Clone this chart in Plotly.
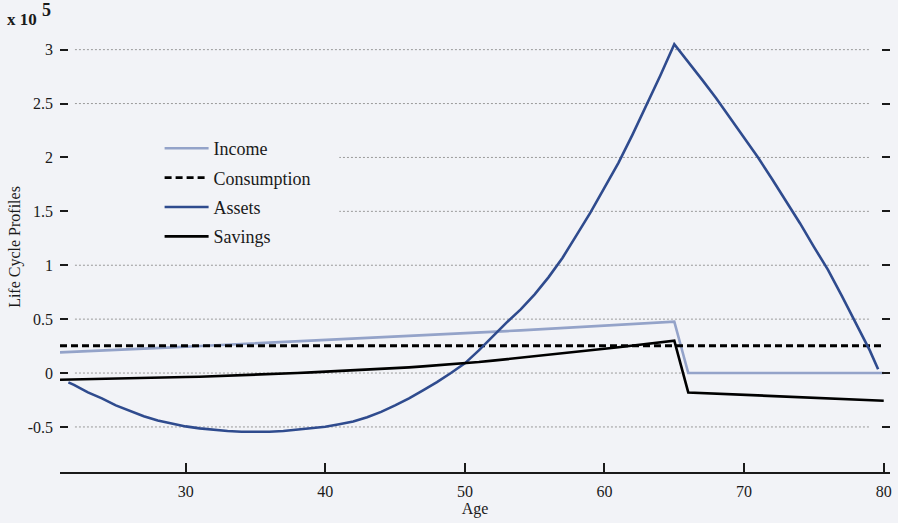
import plotly.graph_objects as go

# Life-cycle model profiles, values in dollars (axis shown in units of 10^5)
ages = list(range(21, 81))

income = [
    19200, 19700, 20300, 20800, 21400, 22000, 22600, 23200, 23800, 24400,
    25000, 25600, 26200, 26800, 27400, 28000, 28600, 29200, 29800, 30500,
    31100, 31800, 32400, 33100, 33700, 34400, 35000, 35700, 36300, 37000,
    37600, 38300, 38900, 39600, 40300, 40900, 41600, 42300, 43000, 43700,
    44500, 45300, 46000, 46800, 47600,
    0, 0, 0, 0, 0, 0, 0, 0, 0, 0, 0, 0, 0, 0, 0,
]

consumption = [25300] * len(ages)

savings = [
    -6200, -6000, -5800, -5500, -5200, -5000, -4700, -4400, -4000, -3700,
    -3400, -3000, -2500, -2000, -1500, -1000, -500, 0, 600, 1200,
    1800, 2400, 3100, 3800, 4500, 5300, 6200, 7100, 8000, 9000,
    10200, 11500, 12800, 14100, 15500, 16900, 18300, 19700, 21100, 22500,
    24000, 25500, 27000, 28500, 30000,
    -18000, -18600, -19100, -19700, -20200, -20800, -21300, -21900, -22400,
    -23000, -23500, -24100, -24600, -25100, -25700,
]

asset_ages = [21.6] + list(range(22, 80)) + [79.6]
assets = [
    -8600,
    -11000, -18000, -23500, -30000, -35000, -40000, -44000, -47000, -49500,
    -51300, -52700, -53700, -54400, -54700, -54500, -53700, -52600, -51300,
    -49900, -47500, -45000, -41000, -36000, -30000, -23500, -16000, -8500,
    0, 9000, 21000, 34000, 47000, 59000, 73000, 89000, 107000, 128000,
    149000, 172000, 195000, 221000, 248000, 276000, 305000,
    289000, 272000, 255000, 237000, 218000, 200000, 180000, 160000, 139000,
    117000, 96000, 71500, 47000, 21000,
    3500,
]

SCALE = 1e5
y_ticks = [-0.5, 0, 0.5, 1, 1.5, 2, 2.5, 3]
y_tick_text = ["-0.5", "0", "0.5", "1", "1.5", "2", "2.5", "3"]
x_ticks = [30, 40, 50, 60, 70, 80]

BG = "#f2f3f7"
FONT = "Liberation Serif"
INK = "#1a1a1a"

fig = go.Figure()
fig.add_trace(go.Scatter(
    x=ages, y=[v / SCALE for v in income], name="Income", mode="lines",
    line=dict(color="#94a3c9", width=2.6), legendgroup="a"))
fig.add_trace(go.Scatter(
    x=ages, y=[v / SCALE for v in consumption], name="Consumption", mode="lines",
    line=dict(color="#000000", width=2.8, dash="7px,4px"), legendgroup="b"))
fig.add_trace(go.Scatter(
    x=asset_ages, y=[v / SCALE for v in assets], name="Assets", mode="lines",
    line=dict(color="#2f4b8e", width=2.6), legendgroup="c"))
fig.add_trace(go.Scatter(
    x=ages, y=[v / SCALE for v in savings], name="Savings", mode="lines",
    line=dict(color="#000000", width=2.6), legendgroup="d"))

# dotted horizontal guides, inset from the plot edges
shapes = []
for t in y_ticks:
    shapes.append(dict(type="line", xref="paper", yref="y", x0=0.018, x1=0.977,
                       y0=t, y1=t, layer="below",
                       line=dict(color="#9a9a9a", width=1, dash="2px,2px")))
# legend backdrop hides the guides behind the legend entries
shapes.append(dict(type="rect", xref="paper", yref="paper", x0=0.0, x1=0.3365,
                   y0=0.502, y1=0.764, layer="below", line=dict(width=0),
                   fillcolor=BG))

fig.update_layout(
    width=898, height=523,
    margin=dict(l=60, r=6, t=22, b=51),
    paper_bgcolor=BG, plot_bgcolor=BG,
    font=dict(family=FONT, size=16, color=INK),
    shapes=shapes,
    showlegend=True,
    legend=dict(x=0.12, y=0.76, xanchor="left", yanchor="top",
                bgcolor="rgba(0,0,0,0)", font=dict(family=FONT, size=18, color=INK),
                tracegroupgap=3, itemwidth=44),
    xaxis=dict(range=[21, 80.45], tickvals=x_ticks, ticks="inside", ticklen=9,
               tickwidth=1.5, tickcolor=INK, showline=True, linecolor=INK,
               linewidth=1.5, showgrid=False, zeroline=False,
               ticklabelstandoff=4,
               title=dict(text="Age", standoff=0, font=dict(size=16))),
    yaxis=dict(range=[-0.918, 3.2565], tickvals=y_ticks, ticktext=y_tick_text,
               ticks="inside", ticklen=8, tickwidth=2, tickcolor=INK,
               mirror="ticks", showline=False, showgrid=False, zeroline=False,
               ticklabelstandoff=6,
               title=dict(text="Life Cycle Profiles", standoff=3, font=dict(size=16))),
    annotations=[
        dict(text="<b>x 10</b>", xref="paper", yref="paper", x=-0.066, y=1.0,
             xanchor="left", yanchor="middle", yshift=3, showarrow=False,
             font=dict(family=FONT, size=17, color=INK)),
        dict(text="<b>5</b>", xref="paper", yref="paper", x=-0.024, y=1.0,
             xanchor="left", yanchor="middle", yshift=12, showarrow=False,
             font=dict(family=FONT, size=18, color=INK)),
    ],
)

fig.write_html("out.html")
